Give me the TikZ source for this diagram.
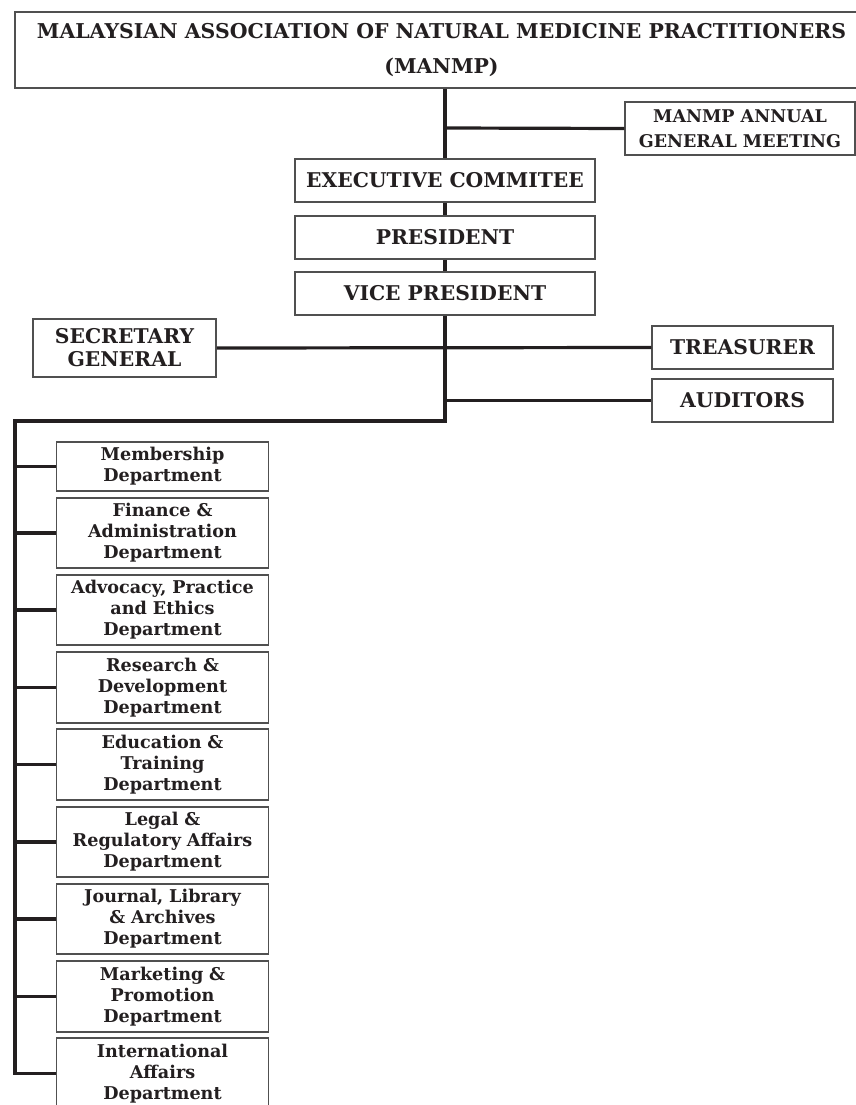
\documentclass[tikz,border=0pt]{standalone}
\usepackage{fontspec}
\setmainfont{DejaVu Serif}
\definecolor{linec}{HTML}{231F20}
\definecolor{boxc}{HTML}{505050}
\definecolor{txtc}{HTML}{231F20}
\tikzset{
  box/.style={draw=boxc, line width=1.5pt, fill=white, align=center, inner sep=0pt, text=txtc},
  bigtxt/.style={font=\fontsize{20.4}{35}\selectfont\bfseries},
  midtxt/.style={font=\fontsize{20.3}{23}\selectfont\bfseries},
  agmtxt/.style={font=\fontsize{17.5}{25}\selectfont\bfseries},
  depttxt/.style={font=\fontsize{17.6}{21}\selectfont\bfseries},
  conn/.style={draw=linec, line width=3.2pt},
  dept/.style={box, depttxt, minimum width=212pt, text width=210pt},
}
\begin{document}
\begin{tikzpicture}[x=1pt,y=-1pt]
\useasboundingbox (0,0) rectangle (856,1105);

% top level
\node[box, bigtxt, minimum width=853pt, minimum height=76pt] (manmp) at (441.5,50)
  {MALAYSIAN ASSOCIATION OF NATURAL MEDICINE PRACTITIONERS\\(MANMP)};
\node[box, agmtxt, minimum width=230pt, minimum height=53pt] (agm) at (740,128.5)
  {MANMP ANNUAL\\GENERAL MEETING};
\node[box, midtxt, minimum width=300pt, minimum height=43pt] (exec) at (445,180.5) {EXECUTIVE COMMITEE};
\node[box, midtxt, minimum width=300pt, minimum height=43pt] (pres) at (445,237.5) {PRESIDENT};
\node[box, midtxt, minimum width=300pt, minimum height=43pt] (vp) at (445,293.5) {VICE PRESIDENT};
\node[box, midtxt, minimum width=183pt, minimum height=58pt] (sec) at (124.5,348) {SECRETARY\\GENERAL};
\node[box, midtxt, minimum width=181pt, minimum height=43pt] (treas) at (742.5,347.5) {TREASURER};
\node[box, midtxt, minimum width=181pt, minimum height=43pt] (aud) at (742.5,400.5) {AUDITORS};

% departments
\node[dept, minimum height=49pt] (d1) at (162.5,466.5) {Membership\\Department};
\node[dept, minimum height=70pt] (d2) at (162.5,533) {Finance \&\\Administration\\Department};
\node[dept, minimum height=70pt] (d3) at (162.5,610) {Advocacy, Practice\\and Ethics\\Department};
\node[dept, minimum height=71pt] (d4) at (162.5,687.5) {Research \&\\Development\\Department};
\node[dept, minimum height=71pt] (d5) at (162.5,764.5) {Education \&\\Training\\Department};
\node[dept, minimum height=70pt] (d6) at (162.5,842) {Legal \&\\Regulatory Affairs\\Department};
\node[dept, minimum height=70pt] (d7) at (162.5,919) {Journal, Library\\\& Archives\\Department};
\node[dept, minimum height=71pt] (d8) at (162.5,996.5) {Marketing \&\\Promotion\\Department};
\node[dept, minimum height=71pt] (d9) at (162.5,1073.5) {International\\Affairs\\Department};

% junction coordinates
\coordinate (agmj) at (445,128);
\coordinate (audj) at (445,400.5);
\coordinate (turn) at (445,421);
\coordinate (lt) at (15,421);

% connectors
\draw[conn] (manmp.south -| exec.north) -- (exec.north);
\draw[conn] (agmj) -- (agm.west);
\draw[conn] (exec.south) -- (pres.north);
\draw[conn] (pres.south) -- (vp.north);
\draw[conn] (sec.east) -- (treas.west);
\draw[conn] (audj) -- (aud.west);
\draw[conn] (vp.south) -- (turn) -- (lt) |- (d9.west);
\foreach \d in {d1,d2,d3,d4,d5,d6,d7,d8}{
  \draw[conn] (\d.west -| lt) -- (\d.west);
}
\end{tikzpicture}
\end{document}
